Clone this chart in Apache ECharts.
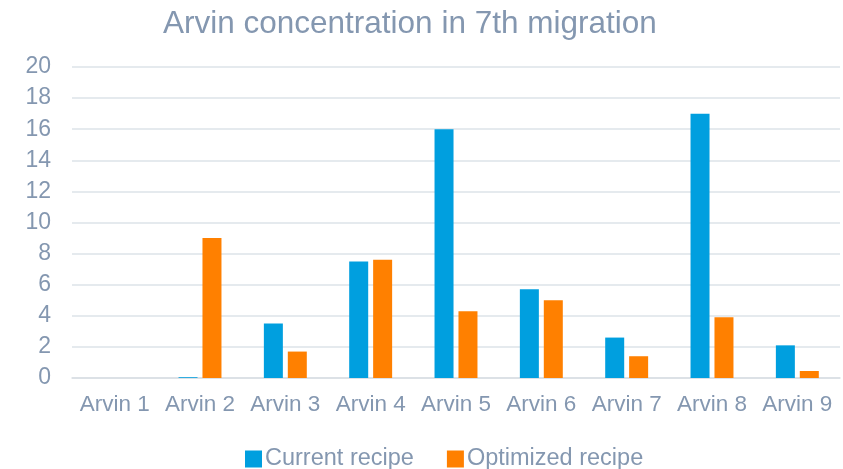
<!DOCTYPE html>
<html>
<head>
<meta charset="utf-8">
<script src="https://cdn.jsdelivr.net/npm/echarts@6/dist/echarts.min.js"></script>
<style>
  html, body { margin: 0; padding: 0; background: #fff; }
  #chart { width: 843px; height: 469px; }
</style>
</head>
<body>
<div id="chart"></div>
<script>
var categories = ['Arvin 1', 'Arvin 2', 'Arvin 3', 'Arvin 4', 'Arvin 5', 'Arvin 6', 'Arvin 7', 'Arvin 8', 'Arvin 9']
var currentRecipe = [0, 0.05, 3.5, 7.5, 16, 5.7, 2.6, 17, 2.1]
var optimizedRecipe = [0, 9, 1.7, 7.6, 4.3, 5.0, 1.4, 3.9, 0.45]
var seriesNames = ['Current recipe', 'Optimized recipe']

var textColor = '#8497b0'
var chart = echarts.init(document.getElementById('chart'))
chart.setOption({
  animation: false,
  color: ['#009fdf', '#ff8000'],
  textStyle: { fontFamily: 'Liberation Sans' },
  title: {
    text: 'Arvin concentration in 7th migration',
    left: 158,
    top: 3,
    textStyle: { color: textColor, fontSize: 31.5, fontWeight: 'normal', fontFamily: 'Liberation Sans' }
  },
  legend: {
    data: seriesNames,
    top: 442,
    left: 240,
    itemWidth: 17,
    itemHeight: 17,
    itemGap: 33,
    icon: 'rect',
    textStyle: { color: textColor, fontSize: 23.5, fontFamily: 'Liberation Sans', padding: [0, 0, 0, -2] }
  },
  grid: { left: 72, right: 3, top: 67, bottom: 91, containLabel: false },
  xAxis: {
    type: 'category',
    data: categories,
    axisTick: { show: false },
    axisLine: { lineStyle: { color: '#d9dee4', width: 1.5 } },
    axisLabel: { color: textColor, fontSize: 22.5, margin: 15, interval: 0 }
  },
  yAxis: {
    type: 'value',
    min: 0,
    max: 20,
    interval: 2,
    axisLine: { show: false },
    axisTick: { show: false },
    splitLine: { lineStyle: { color: '#dde3e8', width: 1.5 } },
    axisLabel: { color: textColor, fontSize: 23, margin: 21 }
  },
  series: [
    {
      name: seriesNames[0],
      type: 'bar',
      barWidth: 19,
      barGap: '26%',
      data: currentRecipe
    },
    {
      name: seriesNames[1],
      type: 'bar',
      barWidth: 19,
      data: optimizedRecipe
    }
  ]
})
</script>
</body>
</html>
